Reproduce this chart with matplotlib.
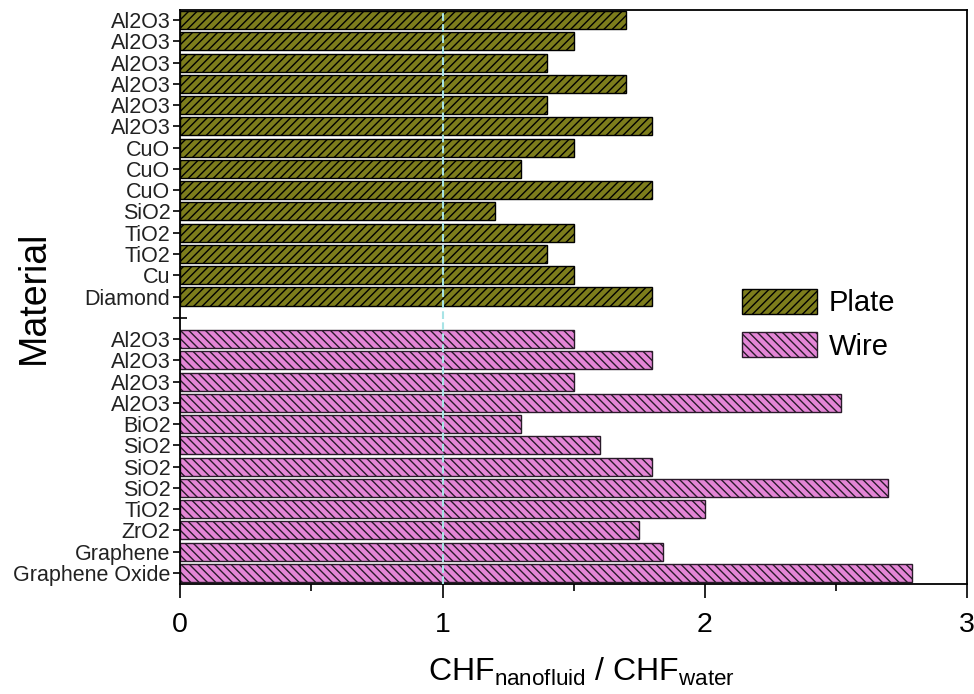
import matplotlib.pyplot as plt
from matplotlib.ticker import MultipleLocator

plt.rcParams['font.family'] = ['Liberation Sans', 'DejaVu Sans']
plt.rcParams['hatch.linewidth'] = 1.0

# CHF enhancement ratio, plate heaters (top group)
plate_labels = ['Al2O3', 'Al2O3', 'Al2O3', 'Al2O3', 'Al2O3', 'Al2O3',
                'CuO', 'CuO', 'CuO', 'SiO2', 'TiO2', 'TiO2', 'Cu', 'Diamond']
plate_values = [1.7, 1.5, 1.4, 1.7, 1.4, 1.8, 1.5, 1.3, 1.8, 1.2, 1.5, 1.4, 1.5, 1.8]

# CHF enhancement ratio, wire heaters (bottom group)
wire_labels = ['Al2O3', 'Al2O3', 'Al2O3', 'Al2O3', 'BiO2', 'SiO2', 'SiO2',
               'SiO2', 'TiO2', 'ZrO2', 'Graphene', 'Graphene Oxide']
wire_values = [1.5, 1.8, 1.5, 2.52, 1.3, 1.6, 1.8, 2.7, 2.0, 1.75, 1.84, 2.79]

plate_color = '#7d7d1c'
wire_color = '#e486d6'

# positions top to bottom, one empty slot between the groups
plate_pos = list(range(len(plate_labels)))
gap_pos = len(plate_labels)
wire_pos = [gap_pos + 1 + i for i in range(len(wire_labels))]

fig = plt.figure(figsize=(9.74, 6.94), dpi=100)
ax = fig.add_axes([0.185, 0.1585, 0.808, 0.827])

ax.barh(plate_pos, plate_values, height=0.85, color=plate_color,
        edgecolor='black', linewidth=1.0, hatch='////', label='Plate', zorder=2)
ax.barh(wire_pos, wire_values, height=0.85, color=wire_color,
        edgecolor='#2a1a2a', linewidth=1.0, hatch='\\\\\\\\', label='Wire', zorder=2)

# reference line at ratio 1
ax.axvline(1, color='#a8e4e6', linestyle='--', linewidth=1.5, zorder=3)

ax.set_xlim(0, 3)
ax.set_ylim(len(plate_labels) + len(wire_labels) + 0.52, -0.47)

ax.set_yticks(plate_pos + [gap_pos] + wire_pos)
ax.set_yticklabels(plate_labels + [''] + wire_labels, fontsize=15.5, color='#222222')
ax.tick_params(axis='y', direction='inout', length=10, width=1.2, pad=2)

ax.xaxis.set_major_locator(MultipleLocator(1))
ax.xaxis.set_minor_locator(MultipleLocator(0.5))
ax.tick_params(axis='x', which='major', direction='out', length=10, width=1.2,
               labelsize=20.5, pad=10)
ax.tick_params(axis='x', which='minor', direction='out', length=5, width=1.2)

for s in ax.spines.values():
    s.set_linewidth(1.3)

ax.set_xlabel(r'CHF$_{\mathregular{nanofluid}}$ / CHF$_{\mathregular{water}}$',
              fontsize=23)
ax.xaxis.set_label_coords(0.51, -0.125)
ax.set_ylabel('Material', fontsize=27)
ax.yaxis.set_label_coords(-0.163, 0.5)

ax.legend(loc='upper left', bbox_to_anchor=(0.681, 0.56), frameon=False,
          fontsize=21, handlelength=2.55, handleheight=0.95, labelspacing=0.5,
          handletextpad=0.4)

plt.savefig('out.png', dpi=100)
